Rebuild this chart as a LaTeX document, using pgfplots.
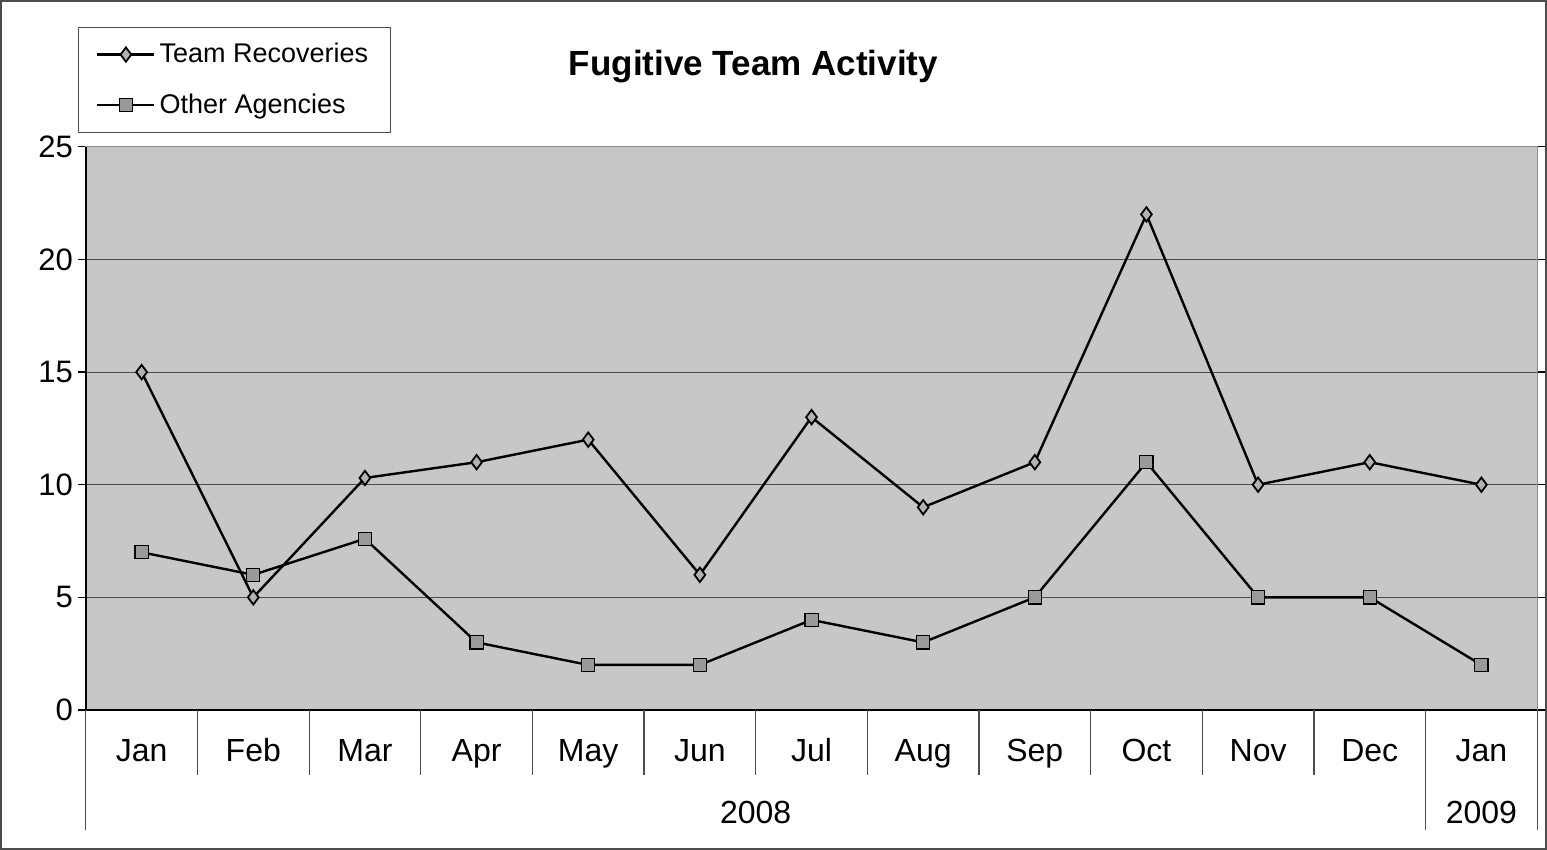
\documentclass[border=0pt]{standalone}
\usepackage{pgfplots}
\pgfplotsset{compat=1.18}
\usepackage{fontspec}
\setmainfont{Liberation Sans}
\begin{document}
\begin{tikzpicture}[x=1pt,y=1pt]
\draw[black!70, line width=0.8pt] (0.5,0.5) rectangle (773,424.5);
\begin{axis}[
  at={(43pt,70pt)}, anchor=south west,
  scale only axis, width=725.5pt, height=281.5pt,
  xmin=-0.5, xmax=12.5, ymin=0, ymax=25,
  ytick={0,5,10,15,20,25},
  xtick={0,...,12},
  xticklabels={Jan,Feb,Mar,Apr,May,Jun,Jul,Aug,Sep,Oct,Nov,Dec,Jan},
  x tick label style={yshift=-7pt, text height=11pt, text depth=3pt, font=\fontsize{16}{19}\selectfont},
  y tick label style={xshift=1pt, font=\fontsize{15.5}{18}\selectfont},
  major x tick style={draw=none},
  tick align=outside, major tick length=4pt,
  y tick style={black, line width=0.6pt},
  axis background/.style={fill=black!22},
  axis line style={black!45, line width=0.5pt},
  ymajorgrids, grid style={black!70, line width=0.5pt},
  /pgf/number format/assume math mode=true,
  clip=false,
  legend style={at={(-0.0055,1.213)}, anchor=north west, draw=black!70, fill=white,
    font=\fontsize{13.5}{16}\selectfont, row sep=10pt, inner xsep=9pt, inner ysep=6pt, cells={anchor=west}},
  legend image code/.code={
    \draw[#1, mark repeat=2, mark phase=2] plot coordinates {(0cm,0cm) (0.5cm,0cm) (1cm,0cm)};},
]
\addplot[black, line width=1.2pt, mark=diamond*, mark size=3.6pt, mark options={fill=black!30, draw=black, line width=0.9pt}]
coordinates {(0,15) (1,5) (2,10.3) (3,11) (4,12) (5,6) (6,13) (7,9) (8,11) (9,22) (10,10) (11,11) (12,10)};
\addlegendentry{Team Recoveries}
\addplot[black, line width=1.2pt, mark=square*, mark size=3.3pt, mark options={fill=black!40, draw=black, line width=0.6pt}]
coordinates {(0,7) (1,6) (2,7.6) (3,3) (4,2) (5,2) (6,4) (7,3) (8,5) (9,11) (10,5) (11,5) (12,2)};
\addlegendentry{Other Agencies}
% axis lines on left and bottom
\draw[black, line width=0.8pt] (rel axis cs:0,0) -- (rel axis cs:1,0);
\draw[black, line width=0.8pt] (rel axis cs:0,0) -- (rel axis cs:0,1);
% category separators
\pgfplotsinvokeforeach{0.5,1.5,2.5,3.5,4.5,5.5,6.5,7.5,8.5,9.5,10.5}{\draw[black!70, line width=0.6pt] (axis cs:#1,0) -- ([yshift=-32.5pt]axis cs:#1,0);}
\pgfplotsinvokeforeach{-0.5,11.5,12.5}{\draw[black!70, line width=0.6pt] (axis cs:#1,0) -- ([yshift=-60pt]axis cs:#1,0);}
\node[font=\fontsize{16}{19}\selectfont] at ([yshift=-51pt]axis cs:5.5,0) {2008};
\node[font=\fontsize{16}{19}\selectfont] at ([yshift=-51pt]axis cs:12,0) {2009};
\node[font=\bfseries\fontsize{17.5}{20}\selectfont] at (rel axis cs:0.46,1.143) {Fugitive Team Activity};
\end{axis}
\end{tikzpicture}
\end{document}
